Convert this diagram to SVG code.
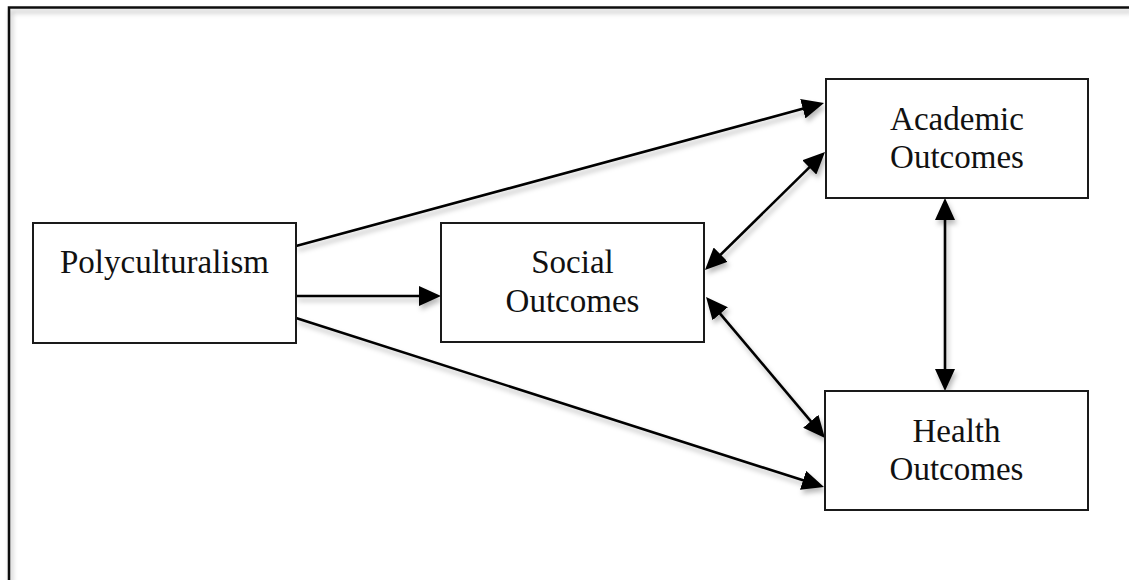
<svg xmlns="http://www.w3.org/2000/svg" width="1129" height="580" viewBox="0 0 1129 580">
  <style>
    .box { fill: #ffffff; stroke: #1a1a1a; stroke-width: 2; }
    .lbl { font-family: "Liberation Serif", "Times New Roman", serif; font-size: 33px; fill: #111111; text-anchor: middle; }
    .conn { stroke: #000000; stroke-width: 2.6; fill: none; }
  </style>
  <defs>
    <filter id="shadow" x="-10%" y="-10%" width="130%" height="140%">
      <feDropShadow dx="2" dy="4" stdDeviation="2.5" flood-color="#000000" flood-opacity="0.28"/>
    </filter>
    <marker id="arrow" viewBox="0 0 22 20" refX="14" refY="10" markerWidth="22" markerHeight="20" markerUnits="userSpaceOnUse" orient="auto-start-reverse">
      <path d="M0,0 L22,10 L0,20 Z" fill="#000000"/>
    </marker>
  </defs>
  <rect width="1129" height="580" fill="#ffffff"/>
  <path d="M9,582 L9,7.5 L1131,7.5" fill="none" stroke="#111111" stroke-width="2.5" filter="url(#shadow)"/>

  <g id="connectors" filter="url(#shadow)">
    <line class="conn" x1="296" y1="246" x2="816.3" y2="105.1" marker-end="url(#arrow)"/>
    <line class="conn" x1="296" y1="296" x2="433" y2="296" marker-end="url(#arrow)"/>
    <line class="conn" x1="296" y1="318" x2="816.4" y2="484.6" marker-end="url(#arrow)"/>
    <line class="conn" x1="710.7" y1="264.4" x2="819.3" y2="157.6" marker-start="url(#arrow)" marker-end="url(#arrow)"/>
    <line class="conn" x1="711.2" y1="303.1" x2="819.8" y2="431.9" marker-start="url(#arrow)" marker-end="url(#arrow)"/>
    <line class="conn" x1="945" y1="206" x2="945" y2="383" marker-start="url(#arrow)" marker-end="url(#arrow)"/>
  </g>

  <g id="polyculturalism">
    <rect class="box" x="33" y="223" width="263" height="120"/>
    <text class="lbl" x="164.5" y="273">Polyculturalism</text>
  </g>
  <g id="social">
    <rect class="box" x="441" y="223" width="263" height="119"/>
    <text class="lbl" x="572.5" y="273">Social</text>
    <text class="lbl" x="572.5" y="312">Outcomes</text>
  </g>
  <g id="academic">
    <rect class="box" x="826" y="79" width="262" height="119"/>
    <text class="lbl" x="957" y="130">Academic</text>
    <text class="lbl" x="957" y="168">Outcomes</text>
  </g>
  <g id="health">
    <rect class="box" x="825" y="391" width="263" height="119"/>
    <text class="lbl" x="956.5" y="442">Health</text>
    <text class="lbl" x="956.5" y="480">Outcomes</text>
  </g>
</svg>
